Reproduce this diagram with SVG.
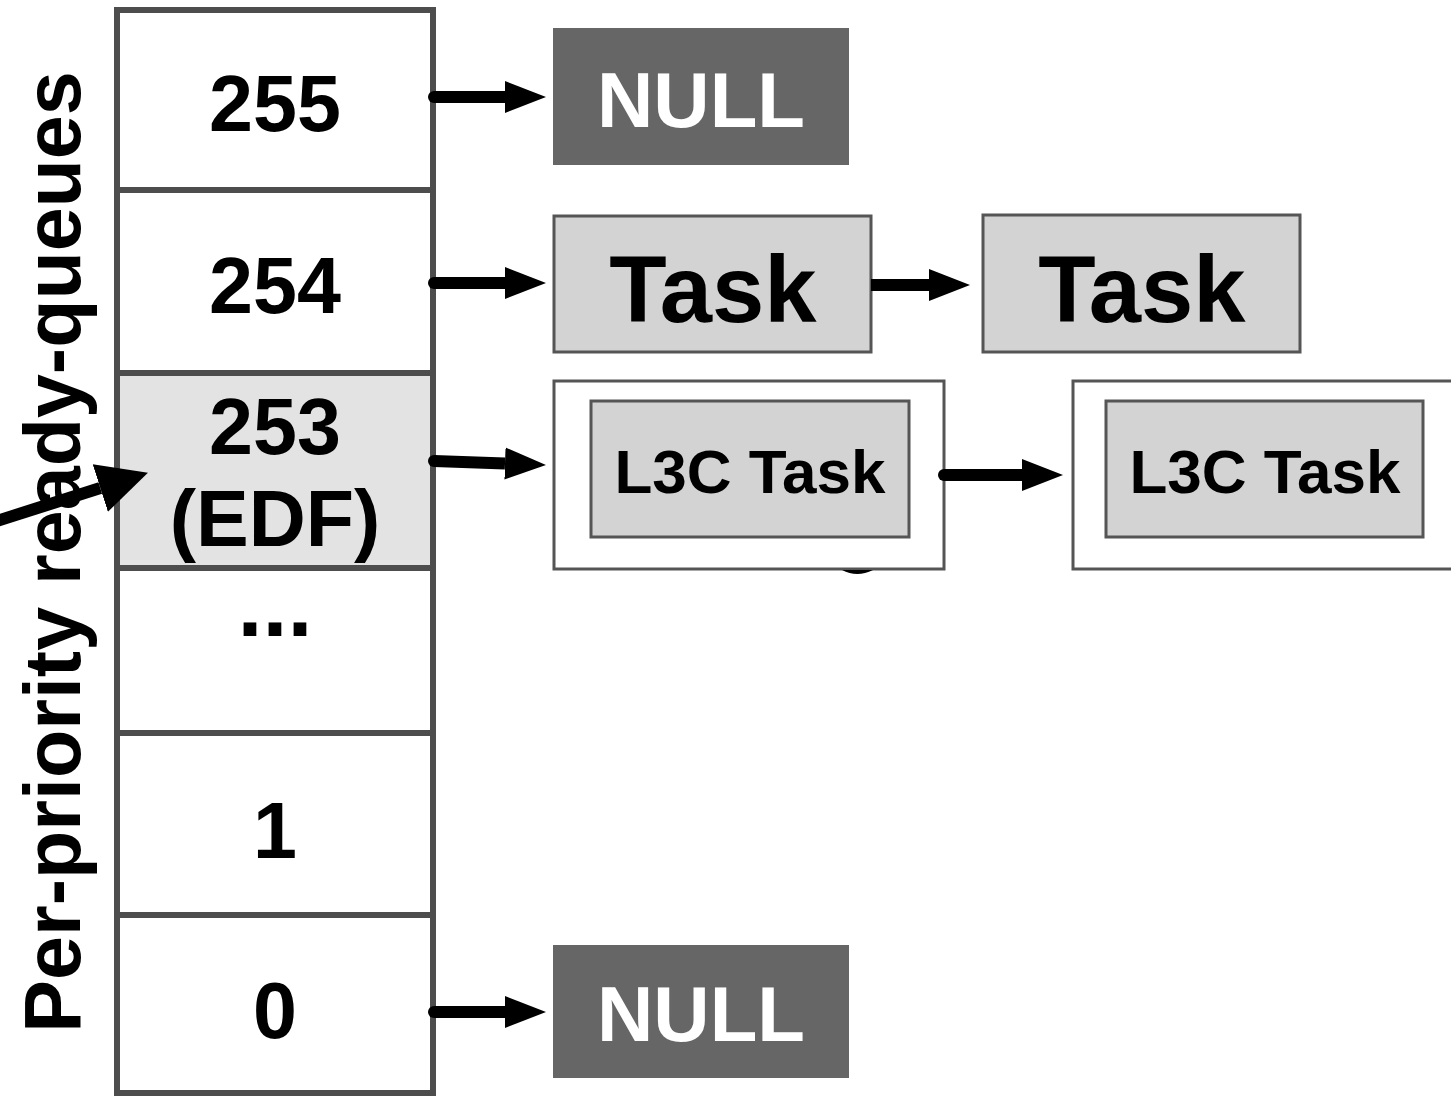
<svg xmlns="http://www.w3.org/2000/svg" width="1451" height="1096" viewBox="0 0 1451 1096">
<style>
.cell{fill:#ffffff;stroke:#4d4d4d;stroke-width:6}
.num{font-family:"Liberation Sans",Arial,sans-serif;font-weight:bold;font-size:79px;fill:#000;text-anchor:middle}
.null{fill:#666666}
.nulltxt{font-family:"Liberation Sans",Arial,sans-serif;font-weight:bold;font-size:78px;fill:#ffffff;text-anchor:middle}
.task{fill:#d3d3d3;stroke:#555555;stroke-width:3}
.tasktxt{font-family:"Liberation Sans",Arial,sans-serif;font-weight:bold;font-size:94px;fill:#000;text-anchor:middle}
.outer{fill:#ffffff;stroke:#555555;stroke-width:3}
.l3ctxt{font-family:"Liberation Sans",Arial,sans-serif;font-weight:bold;font-size:62px;fill:#000;text-anchor:middle}
.conn{stroke:#000;stroke-width:12;fill:none;stroke-linecap:butt}
.label{font-family:"Liberation Sans",Arial,sans-serif;font-weight:bold;font-size:79px;fill:#000;text-anchor:middle}
</style>
<defs>
<marker id="ah" markerUnits="userSpaceOnUse" markerWidth="44" markerHeight="36" viewBox="0 -18 44 36" refX="0" refY="0" orient="auto">
<path d="M0,-16 L41,0 L0,16 z" fill="#000"/>
</marker>
<marker id="ahBig" markerUnits="userSpaceOnUse" markerWidth="52" markerHeight="54" viewBox="0 -27 52 54" refX="0" refY="0" orient="auto">
<path d="M0,-25 L50,0 L0,25 z" fill="#000"/>
</marker>
</defs>

<g id="queue-column">
<g id="cell-255"><rect class="cell" x="117" y="10" width="316" height="180"/><text class="num" x="275" y="131">255</text></g>
<g id="cell-254"><rect class="cell" x="117" y="190" width="316" height="183"/><text class="num" x="275" y="313">254</text></g>
<g id="cell-253"><rect class="cell" x="117" y="373" width="316" height="195" style="fill:#e3e3e3"/><text class="num" x="275" y="454">253</text><text class="num" x="275" y="546">(EDF)</text></g>
<g id="cell-dots"><rect class="cell" x="117" y="568" width="316" height="165"/><text class="num" x="275" y="636" style="font-size:90px">...</text></g>
<g id="cell-1"><rect class="cell" x="117" y="733" width="316" height="182"/><text class="num" x="275" y="858">1</text></g>
<g id="cell-0"><rect class="cell" x="117" y="915" width="316" height="178"/><text class="num" x="275" y="1038">0</text></g>
</g>

<g id="null-top"><rect class="null" x="553" y="28" width="296" height="137"/><text class="nulltxt" x="701" y="127">NULL</text></g>
<g id="null-bottom"><rect class="null" x="553" y="945" width="296" height="133"/><text class="nulltxt" x="701" y="1041">NULL</text></g>

<g id="task-1"><rect class="task" x="554" y="216" width="317" height="136"/><text class="tasktxt" x="713" y="322">Task</text></g>
<g id="task-2"><rect class="task" x="983" y="215" width="317" height="137"/><text class="tasktxt" x="1142" y="322">Task</text></g>

<g id="l3c-1"><rect class="outer" x="554" y="381" width="390" height="188"/><rect class="task" x="591" y="401" width="318" height="136"/><text class="l3ctxt" x="750" y="493">L3C Task</text></g>
<g id="l3c-2"><rect class="outer" x="1073" y="381" width="390" height="188"/><rect class="task" x="1106" y="401" width="317" height="136"/><text class="l3ctxt" x="1265" y="493">L3C Task</text></g>
<path d="M842,570 Q857,578 873,570 Z" fill="#000"/>

<g id="connectors">
<line class="conn" x1="434" y1="97" x2="505" y2="97" marker-end="url(#ah)"/>
<circle cx="434" cy="97" r="6"/>
<line class="conn" x1="434" y1="283" x2="505" y2="283" marker-end="url(#ah)"/>
<circle cx="434" cy="283" r="6"/>
<line class="conn" x1="434" y1="461" x2="505" y2="463.5" marker-end="url(#ah)"/>
<circle cx="434" cy="461" r="6"/>
<line class="conn" x1="434" y1="1012" x2="505" y2="1012" marker-end="url(#ah)"/>
<circle cx="434" cy="1012" r="6"/>
<line class="conn" x1="871" y1="285" x2="929" y2="285" marker-end="url(#ah)"/>
<line class="conn" x1="944" y1="475" x2="1022" y2="475" marker-end="url(#ah)"/>
<circle cx="944" cy="475" r="6"/>
</g>

<g id="axis-label">
<text class="label" transform="translate(80,552) rotate(-90)">Per-priority ready-queues</text>
</g>

<g id="entry-arrow">
<line x1="-5" y1="521.6" x2="100.3" y2="488" stroke="#000" stroke-width="12" marker-end="url(#ahBig)"/>
</g>
</svg>
